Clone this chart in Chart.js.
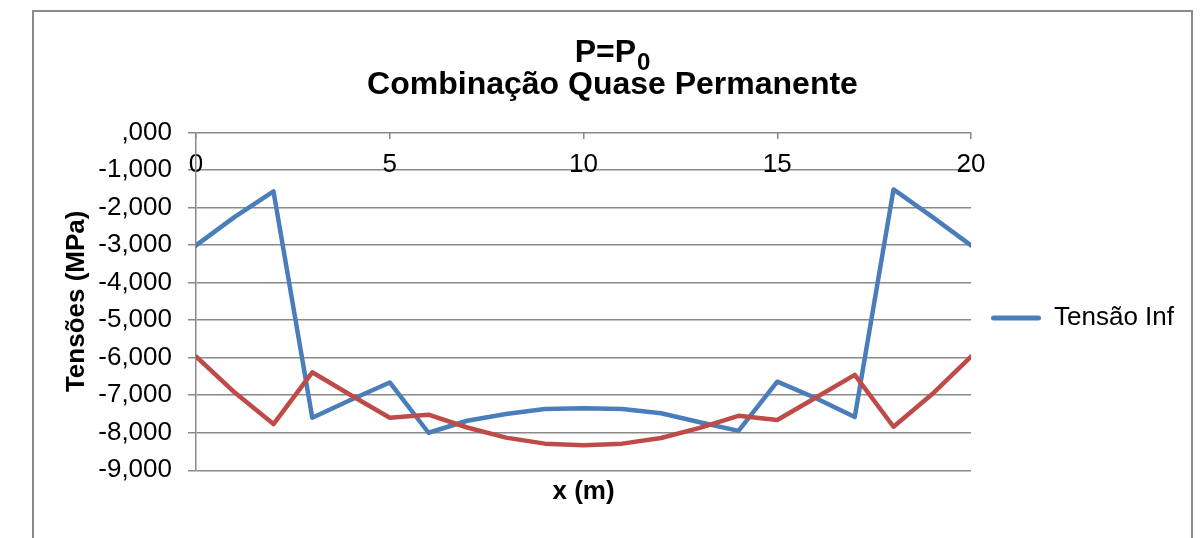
<!DOCTYPE html>
<html>
<head>
<meta charset="utf-8">
<script src="https://cdn.jsdelivr.net/npm/chart.js@4.4.0/dist/chart.umd.min.js"></script>
<style>
    body { margin: 0; background: #ffffff; overflow: hidden; }
    #moldura {
        position: absolute; left: 32px; top: 10px;
        width: 1157px; height: 526px;
        border: 2px solid #8a8a8a; background: #ffffff;
    }
</style>
</head>
<body>
<div id="moldura"><canvas id="grafico"></canvas></div>
<script>
// posicao ao longo da viga (m)
var posicoes = [0, 1, 2, 3, 4, 5, 6, 7, 8, 9, 10, 11, 12, 13, 14, 15, 16, 17, 18, 19, 20];

// tensoes (MPa)
var tensaoInf = [-3.01, -2.25, -1.57, -7.60, -7.12, -6.66, -8.00, -7.68, -7.50, -7.37, -7.35,
                 -7.37, -7.48, -7.72, -7.95, -6.64, -7.08, -7.58, -1.52, -2.25, -3.01];
var tensaoSup = [-5.97, -6.93, -7.77, -6.39, -7.00, -7.60, -7.52, -7.86, -8.13, -8.29, -8.33,
                 -8.29, -8.14, -7.87, -7.55, -7.66, -7.06, -6.46, -7.84, -6.97, -5.97];

var nomesSeries = ['Tensão Inf', 'Tensão Sup'];
var rotulosY = [',000', '-1,000', '-2,000', '-3,000', '-4,000', '-5,000', '-6,000', '-7,000', '-8,000', '-9,000'];
// primeira linha do titulo: "P=P" com o indice "0" subscrito
var tituloLinha1 = ['P=P', '0'];
var tituloLinha2 = 'Combinação Quase Permanente';

var familia = "'Liberation Sans', Arial, sans-serif";

function pontos(valores) {
    return posicoes.map(function (x, i) {
        return { x: x, y: valores[i] };
    });
}

Chart.defaults.font.family = familia;
Chart.defaults.color = '#000000';

var corGrade = '#8a8a8a';

// o bloco de titulo do Chart.js so reserva o espaco; o texto e desenhado aqui,
// centrado na largura toda do grafico (com "P=P0" subscrito)
var tituloSubscrito = {
    id: 'tituloSubscrito',
    afterDraw: function (chart) {
        var tb = chart.titleBlock;
        var c = chart.ctx;
        var opts = tb.options;
        var alturaLinha = opts.font.size * opts.font.lineHeight;
        var base = tb.top + opts.padding.top + alturaLinha / 2 + 0.3465 * opts.font.size;
        var centro = chart.width / 2;
        c.save();
        c.fillStyle = '#000000';
        c.textBaseline = 'alphabetic';
        c.textAlign = 'left';
        c.font = 'bold 32px ' + familia;
        var w1 = c.measureText(tituloLinha1[0]).width;
        c.font = 'bold 24px ' + familia;
        var w2 = c.measureText(tituloLinha1[1]).width;
        var x0 = centro - (w1 + w2 + 1) / 2;
        c.font = 'bold 32px ' + familia;
        c.fillText(tituloLinha1[0], x0, base);
        c.font = 'bold 24px ' + familia;
        c.fillText(tituloLinha1[1], x0 + w1 + 1, base + 8.3);
        c.font = 'bold 32px ' + familia;
        c.textAlign = 'center';
        c.fillText(tituloLinha2, centro, base + alturaLinha);
        c.restore();
    }
};

var ctx = document.getElementById('grafico').getContext('2d');

window.grafico = new Chart(ctx, {
    type: 'line',
    data: {
        datasets: [{
            label: nomesSeries[0],
            data: pontos(tensaoInf),
            borderColor: '#4a7ebb',
            backgroundColor: '#4a7ebb',
            borderWidth: 4.5,
            borderJoinStyle: 'round',
            borderCapStyle: 'round',
            pointRadius: 0,
            tension: 0,
            order: 1
        }, {
            label: nomesSeries[1],
            data: pontos(tensaoSup),
            borderColor: '#be4b48',
            backgroundColor: '#be4b48',
            borderWidth: 4.5,
            borderJoinStyle: 'round',
            borderCapStyle: 'round',
            pointRadius: 0,
            tension: 0,
            order: 0
        }]
    },
    plugins: [tituloSubscrito],
    options: {
        responsive: true,
        maintainAspectRatio: false,
        animation: false,
        layout: {
            padding: { left: 0, right: 7, top: 0, bottom: 30.5 }
        },
        plugins: {
            title: {
                display: true,
                text: ['', ''],
                font: { size: 32, weight: 'bold', lineHeight: 1.01 },
                color: '#000000',
                padding: { top: 22.4, bottom: 33.3 }
            },
            legend: {
                position: 'right',
                title: {
                    display: true,
                    text: '',
                    font: { size: 10, lineHeight: 1 },
                    padding: { top: 10, bottom: 96.4 }
                },
                labels: {
                    boxWidth: 50,
                    boxHeight: 5,
                    padding: 20,
                    font: { size: 26 },
                    color: '#000000',
                    filter: function (item) {
                        return item.text === nomesSeries[0]; // so a tensao inferior aparece
                    },
                    generateLabels: function (chart) {
                        return chart.data.datasets.map(function (ds, i) {
                            return {
                                text: ds.label,
                                fillStyle: ds.borderColor,
                                strokeStyle: ds.borderColor,
                                lineWidth: 0,
                                borderRadius: 2.5,
                                datasetIndex: i,
                                hidden: false
                            };
                        });
                    }
                }
            },
            tooltip: { enabled: false }
        },
        scales: {
            x: {
                type: 'linear',
                position: { y: 0 },
                min: 0,
                max: 20,
                ticks: {
                    stepSize: 5,
                    padding: 10,
                    font: { size: 26 },
                    color: '#000000',
                    maxRotation: 0
                },
                grid: {
                    drawOnChartArea: false,
                    drawTicks: true,
                    tickLength: 7,
                    color: corGrade,
                    lineWidth: 1.5
                },
                border: { display: false }
            },
            xTitulo: {
                type: 'linear',
                axis: 'x',
                position: 'bottom',
                min: 0,
                max: 20,
                ticks: { display: false },
                grid: { display: false, drawTicks: false },
                border: { display: false },
                title: {
                    display: true,
                    text: 'x (m)',
                    font: { size: 26, weight: 'bold', lineHeight: 1.2 },
                    color: '#000000',
                    padding: { top: 6, bottom: 0 }
                }
            },
            y: {
                min: -9,
                max: 0,
                position: 'left',
                afterFit: function (escala) {
                    escala.width = 162;
                },
                ticks: {
                    stepSize: 1,
                    padding: 16,
                    font: { size: 26 },
                    color: '#000000',
                    callback: function (valor) {
                        return rotulosY[Math.round(-valor)];
                    }
                },
                grid: {
                    color: corGrade,
                    lineWidth: 1.5,
                    tickLength: 8
                },
                border: { display: true, color: corGrade, width: 1.5 },
                title: {
                    display: true,
                    text: 'Tensões (MPa)',
                    font: { size: 26, weight: 'bold', lineHeight: 1.2 },
                    color: '#000000',
                    padding: { top: 27, bottom: 0 }
                }
            }
        }
    }
});
</script>
</body>
</html>
